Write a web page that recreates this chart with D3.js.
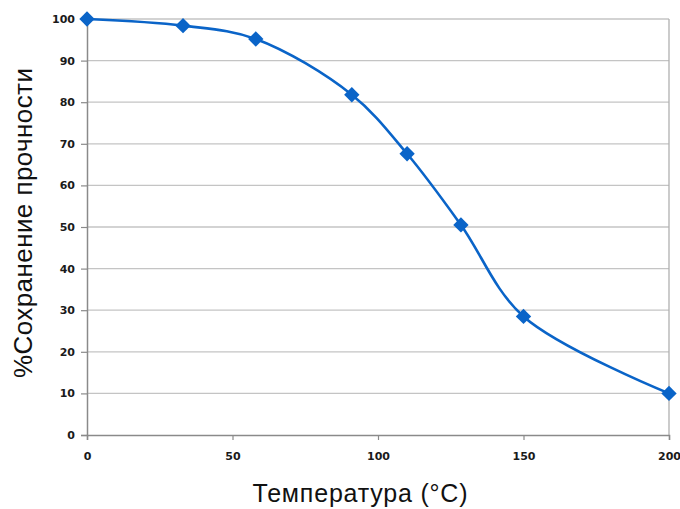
<!DOCTYPE html>
<html><head><meta charset="utf-8">
<script src="https://cdn.jsdelivr.net/npm/d3@7"></script>
<style>
body{margin:0;background:#fff;}
svg{display:block;}
</style></head>
<body><svg id="c" width="680" height="509"></svg>
<script>
const temps = [0, 33, 58, 91, 110, 128.5, 150, 200];
const retention = [100, 98.4, 95.2, 81.8, 67.6, 50.5, 28.5, 10];
const xTicks = [0, 50, 100, 150, 200];
const yTicks = [0, 10, 20, 30, 40, 50, 60, 70, 80, 90, 100];
const xTitle = "Температура (°C)";
const yTitle = "%Сохранение прочности";

const svg = d3.select("#c");
const m = {l:87, r:11, t:19, b:74};
const W = 680, H = 509;
const x = d3.scaleLinear().domain([0,200]).range([m.l, W-m.r]);
const y = d3.scaleLinear().domain([0,100]).range([H-m.b, m.t]);

// gridlines
svg.append("g").selectAll("line").data(yTicks.filter(d=>d>0)).join("line")
  .attr("x1", x(0)).attr("x2", x(200))
  .attr("y1", d=>y(d)).attr("y2", d=>y(d))
  .attr("stroke", "#c4c4c4").attr("stroke-width", 1.3);
// right border
svg.append("line").attr("x1", x(200)).attr("x2", x(200)).attr("y1", y(100)).attr("y2", y(0))
  .attr("stroke", "#b0b0b0").attr("stroke-width", 1.3);

const tickFont = "'DejaVu Sans', Verdana, sans-serif";
const yAxis = svg.append("g").attr("transform", `translate(${x(0)},0)`)
  .call(d3.axisLeft(y).tickValues(yTicks).tickSize(6).tickPadding(6).tickFormat(d3.format("d")));
const xAxis = svg.append("g").attr("transform", `translate(0,${y(0)})`)
  .call(d3.axisBottom(x).tickValues(xTicks).tickSize(5).tickPadding(12).tickFormat(d3.format("d")));
[yAxis, xAxis].forEach(a=>{
  a.select(".domain").attr("stroke", "#8a8a8a").attr("stroke-width", 1.5);
  a.selectAll(".tick line").attr("stroke", "#8a8a8a").attr("stroke-width", 1.2);
  a.selectAll("text").attr("fill", "#1a1a1a").style("font-family", tickFont)
    .style("font-weight", "bold").style("font-size", "11px");
});

// line
const pts = temps.map((t,i)=>[t, retention[i]]);
const line = d3.line().x(d=>x(d[0])).y(d=>y(d[1])).curve(d3.curveCatmullRom.alpha(0.5));
svg.append("path").datum(pts).attr("d", line).attr("fill", "none")
  .attr("stroke", "#0a64c8").attr("stroke-width", 2.6);

// markers
svg.append("g").selectAll("path").data(pts).join("path")
  .attr("d", d3.symbol().type(d3.symbolDiamond2).size(150))
  .attr("transform", d=>`translate(${x(d[0])},${y(d[1])})`)
  .attr("fill", "#0a64c8");

// titles
const titleFont = "'Liberation Sans', Arial, sans-serif";
svg.append("text").attr("x", 360).attr("y", 502).attr("text-anchor", "middle")
  .style("font-family", titleFont).style("font-size", "25px").attr("fill", "#111")
  .attr("textLength", 215).text(xTitle);
svg.append("text").attr("transform", `translate(32,223) rotate(-90)`).attr("text-anchor", "middle")
  .style("font-family", titleFont).style("font-size", "26px").attr("fill", "#111")
  .attr("textLength", 310).text(yTitle);
</script></body></html>
